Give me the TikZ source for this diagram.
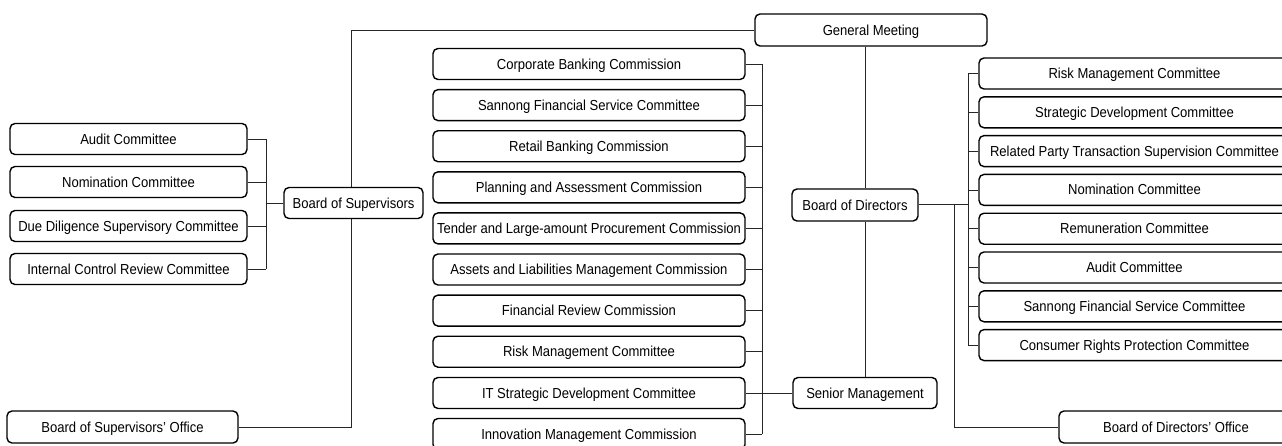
\documentclass[tikz,border=0pt]{standalone}
\usepackage{fontspec}
\setmainfont{Liberation Sans}[FakeStretch=0.9]
\begin{document}
\begin{tikzpicture}[x=1pt,y=-1pt,
  box/.style={draw=black,line width=1.4pt,rounded corners=5pt,fill=white,inner sep=0pt,
    font=\fontsize{14.5}{16}\selectfont,minimum height=31pt,text height=10pt,text depth=0pt},
  lbox/.style={box,minimum width=237pt},
  mbox/.style={box,minimum width=312pt},
  rbox/.style={box,minimum width=311pt},
  conn/.style={draw=black!85,line width=0.7pt}]
\useasboundingbox (0,0) rectangle (1282,445);
\clip (0,0) rectangle (1282,445);
% coordinates for connector junctions
\coordinate (lb) at (266,204);
\coordinate (sv) at (351,30);
\coordinate (mb) at (762,64);
\coordinate (gx) at (865,46);
\coordinate (rb) at (968,204);
\coordinate (ob) at (954,204);
% nodes
\node[lbox] (a1) at (128.5,139) {Audit Committee};
\node[lbox] (a2) at (128.5,182) {Nomination Committee};
\node[lbox] (a3) at (128.5,226) {Due Diligence Supervisory Committee};
\node[lbox] (a4) at (128.5,269) {Internal Control Review Committee};
\node[box,minimum width=139pt] (bos) at (353.5,203) {Board of Supervisors};
\node[box,minimum width=231pt,minimum height=32pt] (boso) at (122.5,427) {Board of Supervisors’ Office};
\node[box,minimum width=232pt,minimum height=32pt] (gm) at (871,30) {General Meeting};
\node[box,minimum width=126pt,minimum height=32pt] (bod) at (855,205) {Board of Directors};
\node[box,minimum width=144pt] (sm) at (865,393) {Senior Management};
\node[box,minimum width=234pt,minimum height=32pt] (bodo) at (1176,427) {Board of Directors’ Office};
\node[mbox] (m1) at (589,64) {Corporate Banking Commission};
\node[mbox] (m2) at (589,105.1) {Sannong Financial Service Committee};
\node[mbox] (m3) at (589,146.2) {Retail Banking Commission};
\node[mbox] (m4) at (589,187.3) {Planning and Assessment Commission};
\node[mbox] (m5) at (589,228.4) {Tender and Large-amount Procurement Commission};
\node[mbox] (m6) at (589,269.5) {Assets and Liabilities Management Commission};
\node[mbox] (m7) at (589,310.6) {Financial Review Commission};
\node[mbox] (m8) at (589,351.7) {Risk Management Committee};
\node[mbox] (m9) at (589,393) {IT Strategic Development Committee};
\node[mbox] (m10) at (589,434) {Innovation Management Commission};
\node[rbox] (r1) at (1134.5,73.5) {Risk Management Committee};
\node[rbox] (r2) at (1134.5,112.3) {Strategic Development Committee};
\node[rbox] (r3) at (1134.5,151.1) {Related Party Transaction Supervision Committee};
\node[rbox] (r4) at (1134.5,189.9) {Nomination Committee};
\node[rbox] (r5) at (1134.5,228.7) {Remuneration Committee};
\node[rbox] (r6) at (1134.5,267.5) {Audit Committee};
\node[rbox] (r7) at (1134.5,306.3) {Sannong Financial Service Committee};
\node[rbox] (r8) at (1134.5,345.1) {Consumer Rights Protection Committee};
% left bracket
\foreach \n in {a1,a2,a3,a4} \draw[conn] (\n.east) -- (\n.east -| lb);
\draw[conn] (a1.east -| lb) -- (a4.east -| lb);
\draw[conn] (lb |- bos.west) -- (bos.west);
% supervisors main line
\draw[conn] (gm.west) -- (gm.west -| sv) -- (sv |- bos.north);
\draw[conn] (sv |- bos.south) -- (sv |- boso.east) -- (boso.east);
% middle bracket
\foreach \n in {m1,m2,m3,m4,m5,m6,m7,m8,m10} \draw[conn] (\n.east) -- (\n.east -| mb);
\draw[conn] (m1.east -| mb) -- (m10.east -| mb);
\draw[conn] (m9.east) -- (sm.west);
% general meeting trunk
\draw[conn] (gx |- gm.south) -- (gx |- bod.north);
\draw[conn] (gx |- bod.south) -- (gx |- sm.north);
% directors bracket
\draw[conn] (bod.east |- rb) -- (rb);
\foreach \n in {r1,r2,r3,r4,r5,r6,r7,r8} \draw[conn] (\n.west) -- (\n.west -| rb);
\draw[conn] (r1.west -| rb) -- (r8.west -| rb);
% directors office
\draw[conn] (ob) -- (ob |- bodo.west) -- (bodo.west);
\end{tikzpicture}
\end{document}
